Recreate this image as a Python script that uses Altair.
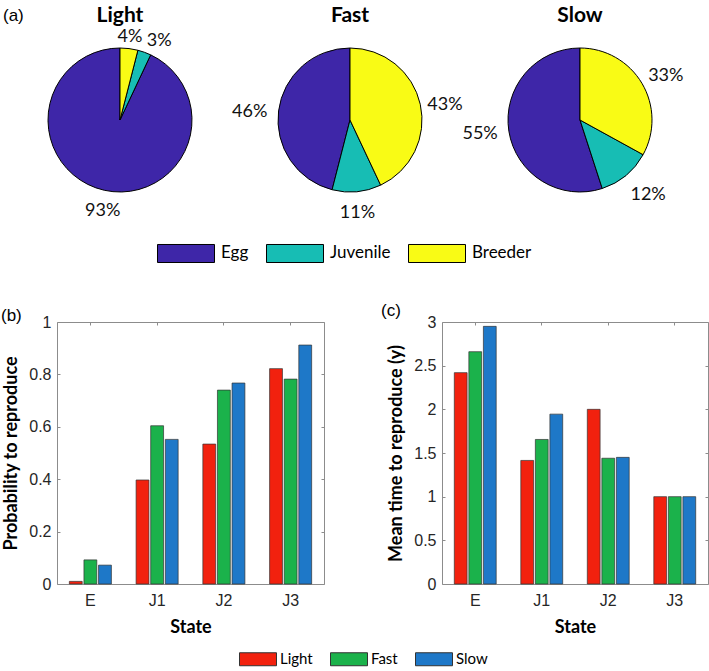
import altair as alt
import pandas as pd

# ---------------- data ----------------
stages = ["Egg", "Juvenile", "Breeder"]
stage_colors = ["#3E26A8", "#17BDB4", "#F9FB15"]
# slices are laid out clockwise from 12 o'clock in this order
stage_clockwise = ["Breeder", "Juvenile", "Egg"]

pie_titles = ["Light", "Fast", "Slow"]
light_share = [93, 3, 4]   # Egg, Juvenile, Breeder (%)
fast_share = [46, 11, 43]
slow_share = [55, 12, 33]

states = ["E", "J1", "J2", "J3"]
series = ["Light", "Fast", "Slow"]
series_colors = ["#F2210E", "#1BB24B", "#1E78C8"]

prob_light = [0.010, 0.397, 0.534, 0.822]
prob_fast = [0.092, 0.604, 0.740, 0.782]
prob_slow = [0.072, 0.552, 0.767, 0.912]

time_light = [2.42, 1.415, 2.00, 1.00]
time_fast = [2.66, 1.655, 1.44, 1.00]
time_slow = [2.95, 1.945, 1.45, 1.00]

prob_ticks = [0, 0.2, 0.4, 0.6, 0.8, 1]
time_ticks = [0, 0.5, 1, 1.5, 2, 2.5, 3]

# ---------------- tables ----------------
pie_rows = []
for name, shares in zip(pie_titles, [light_share, fast_share, slow_share]):
    for stage, v in zip(stages, shares):
        pie_rows.append({"pie": name, "stage": stage, "pct": v,
                         "slot": stage_clockwise.index(stage), "label": f"{v}%"})
pie_df = pd.DataFrame(pie_rows)


def long_table(a, b, c):
    rows = []
    for name, vals in zip(series, [a, b, c]):
        for s, v in zip(states, vals):
            rows.append({"state": s, "series": name, "value": v})
    return pd.DataFrame(rows)


prob_df = long_table(prob_light, prob_fast, prob_slow)
time_df = long_table(time_light, time_fast, time_slow)

# ---------------- style ----------------
TEXT_FONT = "Lato"
NUM_FONT = "Liberation Sans"
FRAME = "#8c8c8c"
PIE_R = 72

# mid angle of a slice (radians, clockwise from 12 o'clock); labels sit just
# outside the rim and are anchored on the side facing the pie
ANG = "((datum.pct_start + datum.pct_end) / datum.total * PI)"
label_align = alt.ExprRef(
    expr=f"abs(sin({ANG})) < 0.3 ? 'center' : (sin({ANG}) > 0 ? 'left' : 'right')")
label_baseline = alt.ExprRef(
    expr=f"abs(cos({ANG})) < 0.3 ? 'middle' : (cos({ANG}) > 0 ? 'alphabetic' : 'top')")
label_dx = alt.ExprRef(expr=f"sin({ANG}) < -0.3 ? -4 : 0")
label_dy = alt.ExprRef(
    expr=f"cos({ANG}) < -0.3 ? 5 : (cos({ANG}) > 0.3 ? 1 : 2)")

pie_legend = alt.Legend(
    title=None, orient="none", direction="horizontal", legendX=100, legendY=204,
    symbolType="M-1,-0.316H1V0.316H-1Z", symbolSize=3249,
    symbolStrokeColor="#000000", symbolStrokeWidth=1, symbolOpacity=1,
    labelFont=TEXT_FONT, labelFontSize=17, labelColor="#000000",
    labelOffset=6, columnPadding=15, padding=0,
)

bar_legend = alt.Legend(
    title=None, orient="none", direction="horizontal", legendX=182, legendY=318,
    symbolType="M-1,-0.351H1V0.351H-1Z", symbolSize=1369,
    symbolStrokeColor="#333333", symbolStrokeWidth=1, symbolOpacity=1,
    labelFont=TEXT_FONT, labelFontSize=15, labelColor="#000000",
    labelOffset=3, columnPadding=15, padding=0,
)


def pie_panel(name):
    base = (
        alt.Chart(pie_df)
        .transform_filter(alt.datum.pie == name)
        .transform_joinaggregate(total="sum(pct)")
        .encode(
            theta=alt.Theta("pct:Q", stack=True),
            order=alt.Order("slot:Q", sort="ascending"),
        )
    )
    arcs = base.mark_arc(outerRadius=PIE_R, stroke="#000000", strokeWidth=1).encode(
        color=alt.Color("stage:N",
                        scale=alt.Scale(domain=stages, range=stage_colors),
                        legend=pie_legend)
    )
    labels = base.mark_text(
        radius=PIE_R * 1.1, font=TEXT_FONT, fontSize=18, color="#111111",
        align=label_align, baseline=label_baseline, dx=label_dx, dy=label_dy,
    ).encode(text="label:N")
    return alt.layer(arcs, labels).properties(
        width=126, height=200,
        title=alt.TitleParams(name, font=TEXT_FONT, fontSize=21, fontWeight="bold",
                              color="#000000", anchor="middle", baseline="alphabetic",
                              offset=-22.5),
    )


def bar_panel(df, y_title, y_max, y_ticks, width, tag, tag_dx, tag_offset):
    x_scale = alt.Scale(domain=states, paddingInner=0.37, paddingOuter=0.185)
    y_scale = alt.Scale(domain=[0, y_max], nice=False, zero=True)
    off = alt.XOffset("series:N", sort=series,
                      scale=alt.Scale(domain=series, paddingInner=0.12, paddingOuter=0))
    tick_axis = dict(labels=False, title=None, domain=False, grid=False, ticks=True,
                     tickSize=3, offset=-3, tickColor=FRAME, tickWidth=1)
    base = alt.Chart(df)
    bars = base.mark_bar(stroke="#333333", strokeWidth=0.7).encode(
        x=alt.X("state:N", scale=x_scale, sort=states,
                axis=alt.Axis(title="State", labelAngle=0, ticks=False, domain=False,
                              grid=False, labelFont=NUM_FONT, labelFontSize=16,
                              labelColor="#262626", labelPadding=8,
                              titleFont=TEXT_FONT, titleFontSize=18,
                              titleFontWeight="bold", titleColor="#000000",
                              titlePadding=10)),
        xOffset=off,
        y=alt.Y("value:Q", scale=y_scale,
                axis=alt.Axis(values=y_ticks, format="~g", title=y_title, ticks=False,
                              domain=False, grid=False, labelFont=NUM_FONT,
                              labelFontSize=16, labelColor="#262626", labelPadding=6,
                              titleFont=TEXT_FONT, titleFontSize=18,
                              titleFontWeight="bold", titleColor="#000000",
                              titlePadding=8)),
        color=alt.Color("series:N", scale=alt.Scale(domain=series, range=series_colors),
                        legend=bar_legend),
    )
    ghost = base.mark_bar(opacity=0)
    outer_ticks = ghost.encode(
        x=alt.X("state:N", scale=x_scale, sort=states,
                axis=alt.Axis(orient="top", bandPosition=0.5, **tick_axis)),
        xOffset=off,
        y=alt.Y("value:Q", scale=y_scale,
                axis=alt.Axis(orient="right", values=y_ticks, **tick_axis)),
    )
    inner_ticks = ghost.encode(
        x=alt.X("state:N", scale=x_scale, sort=states,
                axis=alt.Axis(orient="bottom", bandPosition=0.5, **tick_axis)),
        xOffset=off,
        y=alt.Y("value:Q", scale=y_scale,
                axis=alt.Axis(orient="left", values=y_ticks, **tick_axis)),
    )
    return (
        alt.layer(bars, outer_ticks, inner_ticks)
        .resolve_axis(x="independent", y="independent")
        .properties(
            width=width, height=262,
            view=alt.ViewBackground(stroke=FRAME, strokeWidth=1),
            title=alt.TitleParams(tag, anchor="start", frame="group", dx=tag_dx,
                                  offset=tag_offset, font=NUM_FONT, fontSize=17,
                                  fontWeight="normal", color="#000000",
                                  baseline="alphabetic"),
        )
    )


pie_row = (
    alt.hconcat(*[pie_panel(t) for t in pie_titles], spacing=104, bounds="flush")
    .resolve_scale(color="shared", theta="independent")
    .properties(title=alt.TitleParams("(a)", anchor="start", frame="group", dx=-54,
                                      offset=-33.5, font=NUM_FONT, fontSize=17,
                                      fontWeight="normal", color="#000000",
                                      baseline="alphabetic"))
)

panel_b = bar_panel(prob_df, "Probability to reproduce", 1, prob_ticks, 267, "(b)", -56, -24)
panel_c = bar_panel(time_df, "Mean time to reproduce (y)", 3, time_ticks, 266, "(c)", -61, -19)

bar_row = (
    alt.hconcat(panel_b, panel_c, spacing=118, bounds="flush")
    .resolve_scale(color="shared", xOffset="independent")
)

chart = (
    alt.vconcat(pie_row, bar_row, spacing=302, bounds="flush")
    .resolve_scale(color="independent")
    .properties(padding={"left": 0, "top": 4, "right": 0, "bottom": 0})
    .configure_view(stroke="transparent")
)

chart.save("out.html", embed_options={"renderer": "svg", "actions": False})
